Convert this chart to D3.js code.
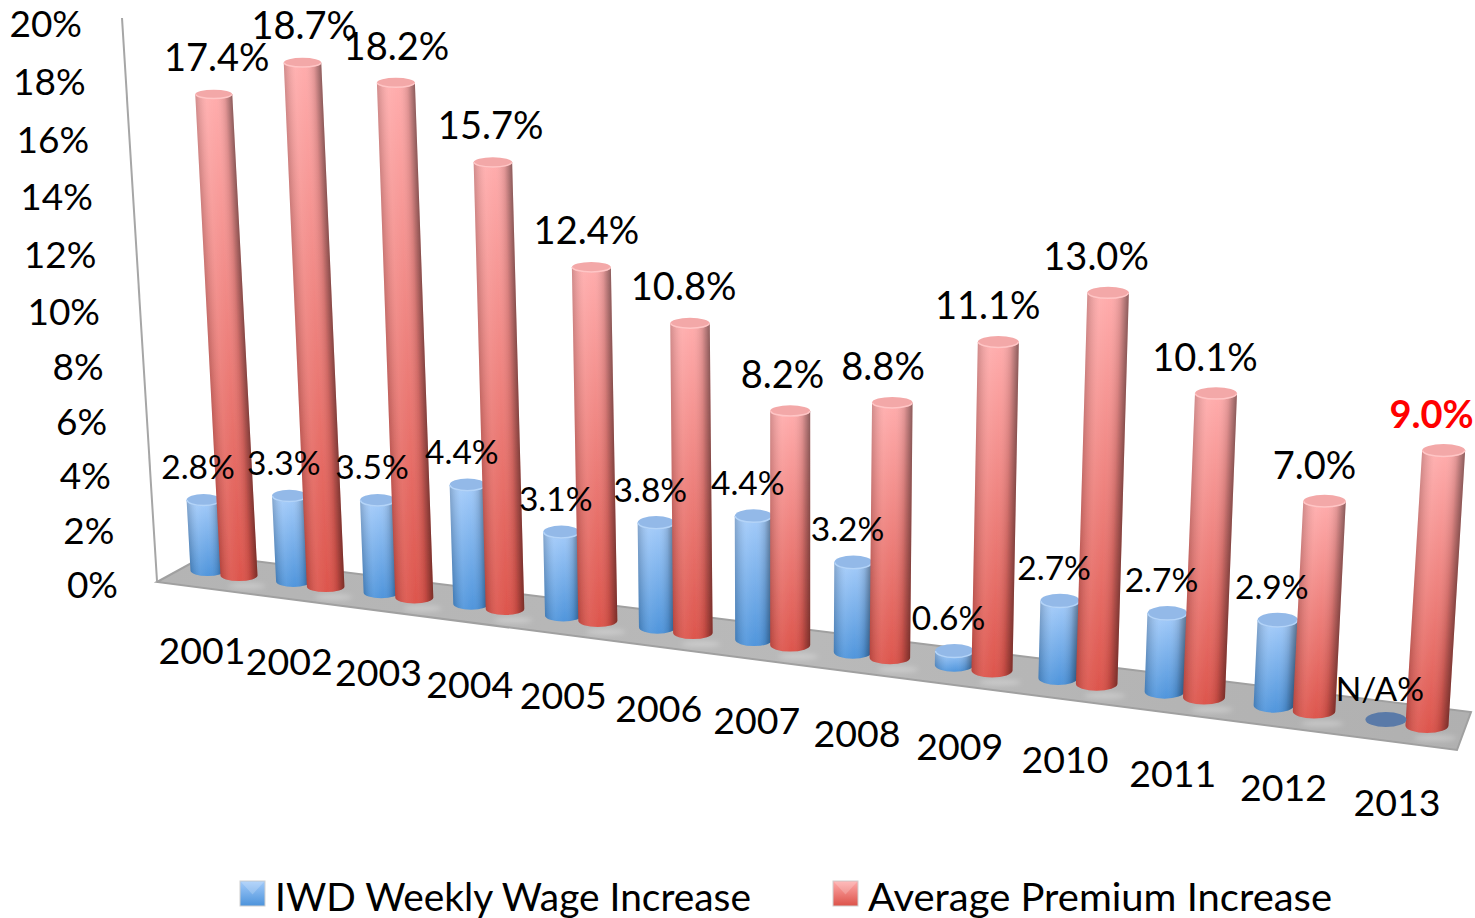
<!DOCTYPE html>
<html>
<head>
<meta charset="utf-8">
<script src="https://cdn.jsdelivr.net/npm/d3@7"></script>
<style>
  html, body { margin: 0; padding: 0; background: #fff; }
  text { font-family: Lato, "Open Sans", sans-serif; fill: #000; }
</style>
</head>
<body>
<div id="chart"></div>
<script>
const years = ['2001','2002','2003','2004','2005','2006','2007','2008','2009','2010','2011','2012','2013'];
const wage = [2.8, 3.3, 3.5, 4.4, 3.1, 3.8, 4.4, 3.2, 0.6, 2.7, 2.7, 2.9, null];
const premium = [17.4, 18.7, 18.2, 15.7, 12.4, 10.8, 8.2, 8.8, 11.1, 13.0, 10.1, 7.0, 9.0];
const axisTicks = [0, 2, 4, 6, 8, 10, 12, 14, 16, 18, 20];
const seriesNames = ['IWD Weekly Wage Increase', 'Average Premium Increase'];

const width = 1475, height = 918;
const svg = d3.select('#chart').append('svg')
    .attr('width', width)
    .attr('height', height)
    .style('display', 'block');
const defs = svg.append('defs');

// perspective of the floor: years get wider apart towards the front right
const idx = d3.scaleLinear().domain([0, 12]);
const xWorld = idx.copy().range([0, 1028.3]);
const persp = i => 1 / (1 - 0.0112 * i);
const xRed = i => 239 + xWorld(i) * persp(i);
const floorY = x => 581 + 0.128 * (x - 239);
const pxPerPct = idx.copy().range([27.5, 30.8]);
// the value axis stretches slightly as it climbs
const valueH = d3.scaleLinear().domain([0, 8, 20]).range([-0.12, 7.86, 20.3]);
const topDrop = idx.copy().range([3, -1]);
const rxRed = idx.copy().range([18.5, 21.5]);
const rxBlue = idx.copy().range([17, 20.5]);
const ryBase = idx.copy().range([5.5, 7.5]);
const ryTopRed = idx.copy().range([4.7, 6.5]);
const ryTopBlue = idx.copy().range([6, 7.5]);
const blueOffset = idx.copy().range([31.5, 41]);
const blueDrop = idx.copy().range([5, 6]);
// vertical edges lean away from this x as they go up
const lean = x => (x - 790) / 10500;

const palette = {
    blue: {top: '#a3cbfa', bottom: '#4c93db', cap: '#93b9e8', rim: '#b4d4f8'},
    red: {top: '#ffabab', bottom: '#dc5249', cap: '#f3a8a8', rim: '#ffc6c6'}
};

function cylinder(i, value, kind) {
    const red = kind === 'red';
    const xb = red ? xRed(i) : xRed(i) - blueOffset(i);
    const rx = red ? rxRed(i) : rxBlue(i);
    const ry = ryBase(i);
    const yb = floorY(xRed(i)) - ry - (red ? 0 : blueDrop(i));
    const h = valueH(value) * pxPerPct(i) - topDrop(i);
    return {i, value, kind, xb, yb, rx, ry, h,
        xt: xb + lean(xb) * h, yt: yb - h,
        ryT: red ? ryTopRed(i) : ryTopBlue(i), id: kind + i};
}

const blues = wage.map((v, i) => v === null ? null : cylinder(i, v, 'blue')).filter(d => d);
const reds = premium.map((v, i) => cylinder(i, v, 'red'));
const bars = [];
years.forEach((y, i) => {
    const b = blues.find(d => d.i === i);
    if (b) bars.push(b);
    bars.push(reds[i]);
});

defs.append('filter').attr('id', 'soft').append('feGaussianBlur').attr('stdDeviation', 0.6);
defs.append('filter').attr('id', 'glow')
    .attr('x', '-50%').attr('y', '-100%').attr('width', '200%').attr('height', '300%')
    .append('feGaussianBlur').attr('stdDeviation', 2.5);

// floor
const floorPts = [[157, 582], [206, 555], [1471, 712], [1457, 750]];
const floorGrad = defs.append('linearGradient').attr('id', 'floorFill')
    .attr('x1', 0).attr('x2', 1).attr('y1', 0).attr('y2', 0);
floorGrad.selectAll('stop').data([['0%', '#b4b4b4'], ['50%', '#b9b9b9'], ['100%', '#b0b0b0']]).enter().append('stop')
    .attr('offset', d => d[0]).attr('stop-color', d => d[1]);
defs.append('clipPath').attr('id', 'floorClip').append('polygon').attr('points', floorPts.join(' '));
svg.append('polygon')
    .attr('points', floorPts.join(' '))
    .attr('fill', 'url(#floorFill)')
    .attr('stroke', '#a0a0a0')
    .attr('stroke-width', 2);
// pale reflections on the front of the floor
svg.append('g').attr('clip-path', 'url(#floorClip)')
    .selectAll('ellipse').data(reds).enter().append('ellipse')
    .attr('cx', d => d.xb + 8)
    .attr('cy', d => d.yb + d.ry + 5)
    .attr('rx', d => d.rx)
    .attr('ry', 3)
    .attr('fill', '#fff')
    .attr('fill-opacity', 0.28)
    .attr('filter', 'url(#glow)');

// wall axis
const axisY = d3.scaleLinear().domain([0, 10, 20]).range([585, 312, 24]);
const axisX = d3.scaleLinear().domain([0, 20]).range([118, 82]);
svg.append('line')
    .attr('x1', 157).attr('y1', 581)
    .attr('x2', 122).attr('y2', 18)
    .attr('stroke', '#a6a6a6')
    .attr('stroke-width', 2);
svg.selectAll('.tick-label').data(axisTicks).enter().append('text')
    .attr('class', 'tick-label')
    .attr('x', d => axisX(d))
    .attr('y', d => axisY(d))
    .attr('dy', '0.36em')
    .attr('text-anchor', 'end')
    .attr('font-size', 37)
    .text(d => d + '%');

// one gradient along each cylinder and one across it
const along = defs.selectAll('.along').data(bars).enter().append('linearGradient')
    .attr('class', 'along')
    .attr('id', d => 'along-' + d.id)
    .attr('gradientUnits', 'userSpaceOnUse')
    .attr('x1', d => d.xt).attr('y1', d => d.yt)
    .attr('x2', d => d.xb).attr('y2', d => d.yb + d.ry);
along.append('stop').attr('offset', '0%').attr('stop-color', d => palette[d.kind].top);
along.append('stop').attr('offset', '100%').attr('stop-color', d => palette[d.kind].bottom);

const across = defs.selectAll('.across').data(bars).enter().append('linearGradient')
    .attr('class', 'across')
    .attr('id', d => 'across-' + d.id)
    .attr('gradientUnits', 'userSpaceOnUse')
    .attr('x1', d => d.xb - d.rx).attr('y1', d => d.yb - lean(d.xb) * d.rx)
    .attr('x2', d => d.xb + d.rx).attr('y2', d => d.yb + lean(d.xb) * d.rx);
const shadeStops = [[0, '#000', 0.18], [0.3, '#fff', 0.08], [0.55, '#fff', 0.02], [0.8, '#000', 0.12], [1, '#000', 0.45]];
shadeStops.forEach(s => {
    across.append('stop').attr('offset', s[0]).attr('stop-color', s[1]).attr('stop-opacity', s[2]);
});

const bodyPath = d => 'M' + (d.xt - d.rx) + ',' + d.yt +
    'L' + (d.xb - d.rx) + ',' + d.yb +
    'A' + d.rx + ',' + d.ry + ' 0 0 0 ' + (d.xb + d.rx) + ',' + d.yb +
    'L' + (d.xt + d.rx) + ',' + d.yt + 'Z';

const barG = svg.selectAll('.bar').data(bars).enter().append('g')
    .attr('class', 'bar')
    .attr('filter', 'url(#soft)');
barG.append('path').attr('d', bodyPath).attr('fill', d => 'url(#along-' + d.id + ')');
barG.append('path').attr('d', bodyPath).attr('fill', d => 'url(#across-' + d.id + ')');
barG.append('ellipse')
    .attr('cx', d => d.xt).attr('cy', d => d.yt)
    .attr('rx', d => d.rx).attr('ry', d => d.ryT)
    .attr('fill', d => palette[d.kind].cap);
barG.append('path')
    .attr('d', d => 'M' + (d.xt - d.rx + 0.5) + ',' + d.yt +
        'A' + (d.rx - 0.5) + ',' + (d.ryT - 0.5) + ' 0 0 0 ' + (d.xt + d.rx - 0.5) + ',' + d.yt)
    .attr('fill', 'none')
    .attr('stroke', d => palette[d.kind].rim)
    .attr('stroke-width', 1.5);

// 2013 has no wage figure, only a flat disc on the floor
const naIndex = wage.indexOf(null);
const naBase = cylinder(naIndex, 0, 'blue');
svg.append('ellipse')
    .attr('cx', naBase.xb).attr('cy', naBase.yb)
    .attr('rx', naBase.rx).attr('ry', naBase.ry)
    .attr('fill', '#5a7aa8');

// value labels
const redDx = d3.scaleLinear().domain([0, 2, 4, 9, 11, 12]).range([3, 0.5, -5, -12, -10, -12]);
const redDy = idx.copy().range([-37, -36]);
const blueDx = idx.copy().range([-5.5, -6]);
svg.selectAll('.red-label').data(reds).enter().append('text')
    .attr('class', 'red-label')
    .attr('x', d => d.xt + redDx(d.i))
    .attr('y', d => d.yt + redDy(d.i))
    .attr('dy', '0.36em')
    .attr('text-anchor', 'middle')
    .attr('font-size', 38)
    .attr('font-weight', d => d.i === 12 ? 700 : 400)
    .style('fill', d => d.i === 12 ? '#ff0000' : '#000')
    .text(d => d.value.toFixed(1) + '%');
svg.selectAll('.blue-label').data(blues.concat([naBase])).enter().append('text')
    .attr('class', 'blue-label')
    .attr('x', d => d.xt + blueDx(d.i))
    .attr('y', d => d.yt - 33)
    .attr('dy', '0.36em')
    .attr('text-anchor', 'middle')
    .attr('font-size', 33.5)
    .text(d => d.i === naIndex ? 'N/A%' : d.value.toFixed(1) + '%');

// year labels under the front edge
const yearDx = idx.copy().range([-37, -30]);
svg.selectAll('.year').data(years).enter().append('text')
    .attr('class', 'year')
    .attr('x', (d, i) => xRed(i) + yearDx(i))
    .attr('y', (d, i) => floorY(xRed(i)) + 69)
    .attr('dy', '0.36em')
    .attr('text-anchor', 'middle')
    .attr('font-size', 37.5)
    .text(d => d);

// legend
const legendKeys = [
    {name: seriesNames[0], kind: 'blue', x: 240, tx: 275, len: 476},
    {name: seriesNames[1], kind: 'red', x: 833, tx: 868, len: 464}
];
const swatchSize = 25, legendTop = 881;
legendKeys.forEach(k => {
    const g = defs.append('linearGradient').attr('id', 'key-' + k.kind)
        .attr('x1', 0).attr('x2', 0).attr('y1', 0).attr('y2', 1);
    g.append('stop').attr('offset', '0%').attr('stop-color', palette[k.kind].top);
    g.append('stop').attr('offset', '100%').attr('stop-color', palette[k.kind].bottom);
});
const key = svg.selectAll('.key').data(legendKeys).enter().append('g').attr('class', 'key');
key.append('rect')
    .attr('x', d => d.x).attr('y', legendTop)
    .attr('width', swatchSize).attr('height', swatchSize)
    .attr('fill', d => 'url(#key-' + d.kind + ')')
    .attr('stroke', '#d0d0d0').attr('stroke-width', 1);
key.append('path')
    .attr('d', d => 'M' + (d.x + 1) + ',' + (legendTop + 1) + 'h' + (swatchSize - 2) + 'l-' + (swatchSize / 2 - 1) + ',' + (swatchSize / 2) + 'Z')
    .attr('fill', '#fff').attr('fill-opacity', 0.2);
key.append('text')
    .attr('x', d => d.tx)
    .attr('y', 897)
    .attr('dy', '0.36em')
    .attr('font-size', 39)
    .attr('textLength', d => d.len)
    .attr('lengthAdjust', 'spacingAndGlyphs')
    .text(d => d.name);
</script>
</body>
</html>
